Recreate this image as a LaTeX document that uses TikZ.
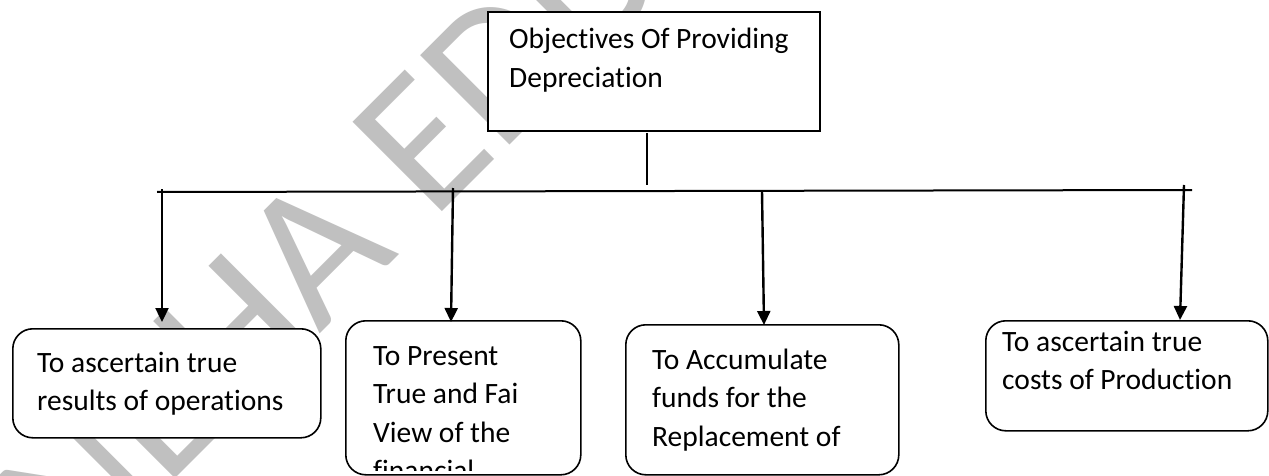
\documentclass[tikz,border=0pt]{standalone}
\usepackage{fontspec}
\setmainfont{Carlito}[Ligatures={NoCommon}]
\usetikzlibrary{arrows.meta}
\definecolor{wmgray}{RGB}{192,192,192}
\begin{document}
\begin{tikzpicture}[x=1pt,y=-1pt,
  box/.style={draw=black, line width=1.6pt, fill=white, inner sep=0pt, anchor=north west},
  rbox/.style={box, rounded corners=20pt},
  lbl/.style={inner sep=0pt, anchor=base west, font=\fontsize{29.5}{38.5}\selectfont},
  bus/.style={line width=2pt},
  arr/.style={line width=2.4pt, -{Triangle[width=13pt,length=14pt]}},
  wm/.style={text=wmgray, inner sep=0pt, font=\fontsize{197}{197}\selectfont}
]
\useasboundingbox (0,0) rectangle (1269,476);
\fill[white] (0,0) rectangle (1269,476);

% diagonal watermark behind everything
\node[wm, rotate=45, anchor=base west] (mark) at (75,579) {NEHA EDU};

% title box
\node[box, minimum width=332pt, minimum height=119pt] (top) at (487,11) {};
\node[lbl] (toptxt) at (509,49) {\vtop{\hbox{Objectives Of Providing}\hbox{Depreciation}}};

% stem and horizontal bus
\coordinate (stemtop) at (647,133);
\coordinate (stembot) at (647,185);
\draw[line width=1.6pt] (stemtop) -- (stembot);
\coordinate (busL) at (157,192);
\coordinate (busR) at (1192,190);
\draw[bus] (busL) -- (busR);

% objective boxes
\node[rbox, minimum width=308pt, minimum height=109pt] (b1) at (12,328) {};
\node[rbox, minimum width=235pt, minimum height=154pt] (b2) at (345,320) {};
\node[rbox, minimum width=273pt, minimum height=150pt] (b3) at (625,324) {};
\node[rbox, minimum width=282pt, minimum height=110pt] (b4) at (985,320) {};

\node[lbl] (t1) at (37,372) {\vtop{\hbox{To ascertain true}\hbox{results of operations}}};
\begin{scope}
  \clip (b2.north west) rectangle ([yshift=5pt]b2.south east);
  \node[lbl] (t2) at (373,365) {\vtop{\hbox{To Present}\hbox{True and Fai}\hbox{View of the}\hbox{financial}}};
\end{scope}
\node[lbl] (t3) at (652,369) {\vtop{\hbox{To Accumulate}\hbox{funds for the}\hbox{Replacement of}}};
\node[lbl] (t4) at (1002,351) {\vtop{\hbox{To ascertain true}\hbox{costs of Production}}};

% drops from the bus to each box
\coordinate (d1) at (162,189);
\coordinate (d2) at (453,188);
\coordinate (d3) at (762,191);
\coordinate (d4) at (1184,185);
\coordinate (e1) at (162,322);
\coordinate (e2) at (451,322);
\coordinate (e3) at (764,325);
\coordinate (e4) at (1180,320);
\draw[arr] (d1) -- (e1);
\draw[arr] (d2) -- (e2);
\draw[arr] (d3) -- (e3);
\draw[arr] (d4) -- (e4);
\end{tikzpicture}
\end{document}
